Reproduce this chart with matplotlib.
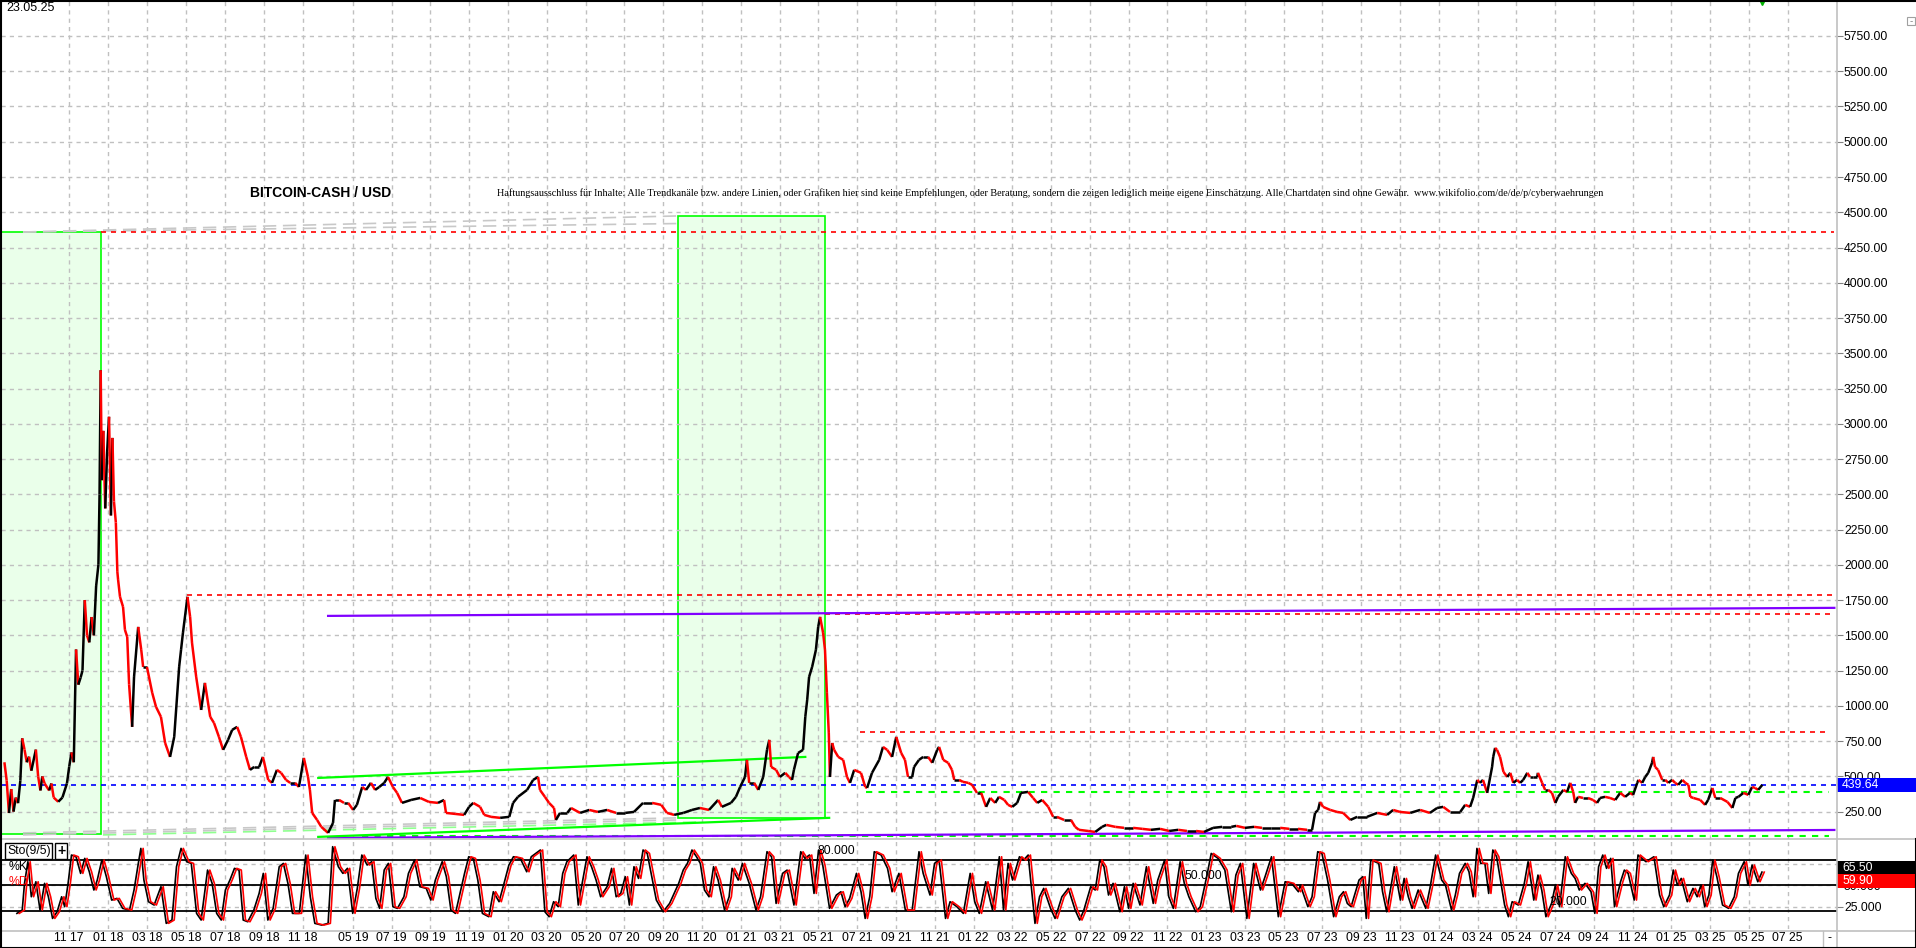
import numpy as np
import matplotlib
matplotlib.use("Agg")
import matplotlib.pyplot as plt
from matplotlib.collections import LineCollection
from matplotlib.patches import Rectangle
from matplotlib.lines import Line2D
from matplotlib.transforms import blended_transform_factory

plt.rcParams['font.family'] = ['Liberation Sans', 'DejaVu Sans']

# time axis is a bar index (the chart has a data gap around 12/18 - 04/19)
tick_labels = ["11 17", "01 18", "03 18", "05 18", "07 18", "09 18", "11 18", "05 19", "07 19",
               "09 19", "11 19", "01 20", "03 20", "05 20", "07 20", "09 20", "11 20", "01 21",
               "03 21", "05 21", "07 21", "09 21", "11 21", "01 22", "03 22", "05 22", "07 22",
               "09 22", "11 22", "01 23", "03 23", "05 23", "07 23", "09 23", "11 23", "01 24",
               "03 24", "05 24", "07 24", "09 24", "11 24", "01 25", "03 25", "05 25", "07 25"]
tick_pos = [0.02, 1.04, 2.07, 3.10, 4.13, 5.16, 6.19, 7.51, 8.53, 9.55, 10.58, 11.60, 12.62,
            13.65, 14.67, 15.69, 16.72, 17.74, 18.76, 19.78, 20.81, 21.83, 22.85, 23.88, 24.90,
            25.92, 26.95, 27.97, 28.99, 30.01, 31.04, 32.06, 33.08, 34.11, 35.13, 36.15, 37.18,
            38.20, 39.22, 40.24, 41.27, 42.29, 43.31, 44.34, 45.36]

# BCH/USD price
price = [
    (-1.69, 600), (-1.63, 470), (-1.57, 240), (-1.51, 410), (-1.45, 250), (-1.39, 350), (-1.33, 310),
    (-1.27, 470), (-1.22, 770), (-1.16, 690), (-1.10, 600), (-1.04, 640), (-0.98, 540), (-0.86, 690),
    (-0.80, 500), (-0.74, 400), (-0.69, 500), (-0.63, 450), (-0.51, 400), (-0.45, 450), (-0.39, 350),
    (-0.27, 320), (-0.16, 350), (-0.04, 450), (0.02, 570), (0.08, 670), (0.14, 600), (0.20, 1400),
    (0.26, 1150), (0.32, 1200), (0.37, 1250), (0.43, 1750), (0.49, 1500), (0.55, 1450), (0.61, 1630),
    (0.67, 1500), (0.73, 1850), (0.79, 2000), (0.82, 2500), (0.85, 3380), (0.88, 2600), (0.92, 2950),
    (0.97, 2400), (1.02, 2800), (1.07, 3050), (1.12, 2350), (1.16, 2900), (1.20, 2450), (1.25, 2300),
    (1.29, 1950), (1.31, 1893), (1.36, 1773), (1.44, 1702), (1.49, 1539), (1.55, 1489), (1.60, 1150),
    (1.68, 851), (1.73, 1205), (1.84, 1560), (1.92, 1397), (1.97, 1276), (2.07, 1276), (2.21, 1092),
    (2.31, 993), (2.44, 922), (2.55, 737), (2.68, 638), (2.79, 780), (2.92, 1276), (2.97, 1397),
    (3.02, 1517), (3.14, 1773), (3.21, 1631), (3.26, 1446), (3.37, 1205), (3.50, 971), (3.60, 1163),
    (3.74, 922), (3.84, 879), (3.97, 780), (4.08, 688), (4.21, 759), (4.32, 830), (4.45, 851),
    (4.55, 780), (4.69, 638), (4.79, 546), (4.90, 567), (5.03, 567), (5.13, 638), (5.27, 475),
    (5.37, 454), (5.50, 546), (5.61, 525), (5.74, 475), (5.85, 454), (5.98, 454), (6.08, 425),
    (6.21, 631), (6.32, 496), (6.37, 404), (6.43, 241), (6.56, 191), (6.67, 142), (6.85, 99),
    (6.98, 170), (7.03, 333), (7.14, 333), (7.27, 312), (7.38, 312), (7.51, 262), (7.61, 298),
    (7.75, 425), (7.85, 404), (7.98, 454), (8.09, 404), (8.20, 425), (8.33, 454), (8.43, 496),
    (8.56, 425), (8.67, 383), (8.80, 312), (9.04, 333), (9.28, 347), (9.51, 319), (9.75, 312),
    (9.91, 333), (9.96, 241), (10.20, 234), (10.44, 227), (10.57, 284), (10.68, 312), (10.86, 284),
    (10.97, 227), (11.15, 213), (11.39, 206), (11.63, 213), (11.73, 312), (11.86, 355), (12.10, 404),
    (12.26, 475), (12.39, 496), (12.44, 404), (12.57, 355), (12.68, 312), (12.81, 276), (12.86, 191),
    (12.97, 241), (13.16, 241), (13.26, 276), (13.50, 241), (13.74, 262), (13.97, 248), (14.21, 262),
    (14.45, 241), (14.69, 241), (14.92, 248), (15.16, 312), (15.40, 312), (15.64, 298), (15.79, 241),
    (15.98, 227), (16.22, 241), (16.45, 262), (16.66, 276), (16.90, 262), (17.14, 333), (17.24, 284),
    (17.48, 312), (17.61, 355), (17.72, 425), (17.85, 496), (17.90, 617), (17.96, 454), (18.09, 454),
    (18.20, 404), (18.33, 496), (18.43, 688), (18.49, 759), (18.54, 567), (18.67, 546), (18.77, 496),
    (18.91, 525), (19.01, 496), (19.09, 475), (19.14, 546), (19.25, 666), (19.38, 688), (19.44, 922),
    (19.49, 1042), (19.54, 1205), (19.62, 1276), (19.72, 1397), (19.78, 1560), (19.83, 1631),
    (19.91, 1517), (19.96, 1397), (20.01, 1092), (20.06, 808), (20.09, 496), (20.15, 737), (20.20, 688),
    (20.31, 638), (20.44, 617), (20.54, 496), (20.62, 454), (20.73, 546), (20.91, 525), (21.02, 425),
    (21.07, 418), (21.20, 525), (21.39, 617), (21.49, 709), (21.60, 688), (21.73, 638), (21.84, 780),
    (21.97, 666), (22.07, 617), (22.15, 496), (22.26, 496), (22.31, 567), (22.44, 617), (22.55, 638),
    (22.68, 638), (22.79, 596), (22.92, 688), (22.97, 709), (23.08, 617), (23.21, 596), (23.31, 546),
    (23.37, 475), (23.50, 475), (23.60, 461), (23.74, 454), (23.84, 440), (23.97, 383), (24.08, 383),
    (24.21, 284), (24.32, 347), (24.45, 312), (24.55, 355), (24.69, 333), (24.79, 298), (24.90, 284),
    (25.03, 312), (25.13, 383), (25.32, 390), (25.45, 347), (25.56, 312), (25.69, 333), (25.85, 284),
    (25.98, 213), (26.08, 213), (26.27, 191), (26.45, 191), (26.56, 142), (26.66, 121), (26.90, 113),
    (27.09, 106), (27.27, 142), (27.38, 156), (27.62, 142), (27.85, 135), (28.09, 135), (28.33, 128),
    (28.56, 121), (28.80, 128), (29.04, 113), (29.28, 121), (29.51, 113), (29.75, 113), (29.96, 106),
    (30.20, 135), (30.44, 142), (30.68, 142), (30.81, 149), (31.04, 135), (31.28, 142), (31.49, 135),
    (31.73, 135), (31.97, 135), (32.21, 128), (32.44, 128), (32.68, 121), (32.81, 121), (32.89, 241),
    (32.97, 262), (33.02, 319), (33.10, 284), (33.29, 262), (33.47, 248), (33.63, 241), (33.82, 191),
    (34.00, 213), (34.26, 213), (34.53, 241), (34.79, 227), (34.95, 262), (35.13, 248), (35.40, 241),
    (35.66, 262), (35.92, 241), (36.11, 276), (36.27, 284), (36.45, 248), (36.72, 248), (36.85, 298),
    (36.98, 284), (37.06, 347), (37.17, 475), (37.24, 454), (37.32, 475), (37.43, 383), (37.51, 496),
    (37.56, 567), (37.59, 638), (37.64, 702), (37.69, 688), (37.77, 638), (37.83, 567), (37.86, 532),
    (37.96, 496), (38.04, 525), (38.12, 454), (38.22, 475), (38.30, 454), (38.38, 475), (38.49, 525),
    (38.56, 496), (38.64, 496), (38.75, 496), (38.77, 525), (38.88, 454), (38.96, 404), (39.04, 404),
    (39.14, 383), (39.23, 312), (39.30, 355), (39.44, 404), (39.54, 390), (39.62, 454), (39.70, 390),
    (39.75, 312), (39.83, 355), (39.96, 347), (40.09, 347), (40.22, 333), (40.33, 312), (40.41, 347),
    (40.54, 355), (40.67, 347), (40.81, 333), (40.94, 383), (41.07, 355), (41.20, 383), (41.28, 369),
    (41.39, 454), (41.42, 475), (41.52, 454), (41.60, 496), (41.68, 525), (41.78, 596), (41.81, 638),
    (41.86, 567), (41.94, 546), (42.05, 475), (42.13, 475), (42.21, 454), (42.31, 475), (42.39, 454),
    (42.47, 440), (42.58, 475), (42.66, 454), (42.74, 440), (42.79, 355), (42.87, 347), (43.05, 333),
    (43.18, 298), (43.26, 333), (43.37, 418), (43.45, 347), (43.58, 347), (43.77, 319), (43.90, 276),
    (43.98, 347), (44.06, 355), (44.19, 383), (44.32, 369), (44.42, 425), (44.50, 418), (44.58, 404),
    (44.69, 440),
]
price_t = [p[0] for p in price]
price_v = [p[1] for p in price]
last_price = 439.64

# Stochastic %K (9/5), turning points
sto_k = [
    (-1.36, 17.1), (-1.22, 21.0), (-1.16, 52.3), (-1.07, 77.7), (-0.98, 36.6), (-0.86, 54.2), (-0.75, 21.0),
    (-0.63, 52.3), (-0.53, 36.6), (-0.42, 11.2), (-0.30, 19.0), (-0.18, 36.6), (-0.10, 24.9), (-0.01, 52.3),
    (0.08, 85.5), (0.20, 83.5), (0.32, 64.0), (0.43, 81.6), (0.55, 65.9), (0.67, 44.5), (0.76, 56.2),
    (0.88, 79.6), (1.00, 60.1), (1.14, 32.7), (1.28, 34.7), (1.43, 23.0), (1.61, 21.0), (1.73, 44.5),
    (1.85, 77.7), (1.91, 93.3), (1.99, 56.2), (2.11, 30.8), (2.26, 26.9), (2.44, 48.4), (2.58, 5.4),
    (2.73, 9.3), (2.85, 71.8), (2.97, 93.3), (3.12, 77.7), (3.24, 75.7), (3.38, 17.1), (3.50, 9.3),
    (3.67, 67.9), (3.79, 52.3), (3.91, 17.1), (4.03, 9.3), (4.14, 44.5), (4.26, 56.2), (4.38, 69.9),
    (4.50, 67.9), (4.61, 9.3), (4.73, 7.3), (4.89, 21.0), (5.03, 40.5), (5.14, 64.0), (5.26, 9.3),
    (5.40, 23.0), (5.56, 71.8), (5.67, 75.7), (5.79, 52.3), (5.91, 17.1), (6.09, 17.1), (6.26, 85.5),
    (6.38, 36.6), (6.50, 5.4), (6.68, 3.4), (6.85, 5.4), (6.97, 95.3), (7.12, 71.8), (7.24, 64.0),
    (7.36, 69.9), (7.50, 17.1), (7.62, 46.4), (7.74, 85.5), (7.88, 73.8), (8.00, 77.7), (8.11, 34.7),
    (8.21, 23.0), (8.33, 67.9), (8.44, 75.7), (8.56, 24.9), (8.68, 23.0), (8.85, 36.6), (8.97, 64.0),
    (9.13, 79.6), (9.27, 48.4), (9.44, 46.4), (9.56, 32.7), (9.68, 56.2), (9.86, 77.7), (9.97, 60.1),
    (10.09, 21.0), (10.21, 17.1), (10.33, 40.5), (10.45, 64.0), (10.56, 83.5), (10.68, 81.6),
    (10.80, 56.2), (10.92, 17.1), (11.09, 13.2), (11.21, 42.5), (11.36, 30.8), (11.48, 50.3),
    (11.62, 73.8), (11.74, 83.5), (11.92, 81.6), (12.09, 65.9), (12.21, 83.5), (12.33, 87.4),
    (12.45, 91.4), (12.57, 19.0), (12.68, 13.2), (12.80, 30.8), (12.92, 24.9), (13.04, 64.0),
    (13.15, 77.7), (13.33, 85.5), (13.45, 26.9), (13.57, 56.2), (13.68, 83.5), (13.80, 71.8),
    (13.92, 56.2), (14.04, 36.6), (14.21, 48.4), (14.33, 69.9), (14.45, 36.6), (14.57, 40.5),
    (14.69, 60.1), (14.80, 26.9), (14.92, 71.8), (15.04, 58.1), (15.16, 91.4), (15.27, 87.4),
    (15.39, 60.1), (15.51, 32.7), (15.69, 19.0), (15.86, 28.8), (15.98, 40.5), (16.10, 52.3),
    (16.22, 67.9), (16.33, 75.7), (16.45, 91.4), (16.57, 83.5), (16.67, 75.7), (16.78, 44.5),
    (16.90, 36.6), (17.02, 71.8), (17.14, 56.2), (17.31, 21.0), (17.43, 36.6), (17.51, 69.9),
    (17.67, 56.2), (17.78, 75.7), (17.96, 52.3), (18.14, 21.0), (18.26, 36.6), (18.43, 89.4),
    (18.55, 83.5), (18.67, 28.8), (18.84, 64.0), (18.96, 67.9), (19.14, 26.9), (19.32, 89.4),
    (19.43, 81.6), (19.55, 85.5), (19.67, 40.5), (19.79, 91.4), (19.90, 73.8), (20.08, 23.0),
    (20.26, 38.6), (20.38, 42.5), (20.49, 24.9), (20.61, 34.7), (20.79, 64.0), (20.91, 42.5),
    (21.02, 11.2), (21.14, 36.6), (21.26, 89.4), (21.44, 85.5), (21.61, 69.9), (21.73, 42.5),
    (21.91, 64.0), (22.08, 21.0), (22.26, 21.0), (22.44, 89.4), (22.55, 64.0), (22.73, 38.6),
    (22.85, 75.7), (22.97, 79.6), (23.14, 11.2), (23.26, 30.8), (23.44, 24.9), (23.61, 17.1),
    (23.79, 64.0), (23.91, 30.8), (24.03, 17.1), (24.20, 54.2), (24.38, 21.0), (24.56, 83.5),
    (24.67, 21.0), (24.79, 75.7), (24.91, 56.2), (25.09, 83.5), (25.20, 79.6), (25.32, 85.5),
    (25.50, 5.4), (25.62, 36.6), (25.73, 46.4), (25.91, 23.0), (26.03, 11.2), (26.21, 36.6),
    (26.38, 46.4), (26.56, 21.0), (26.68, 9.3), (26.79, 21.0), (26.97, 48.4), (27.09, 44.5),
    (27.21, 79.6), (27.32, 71.8), (27.44, 38.6), (27.56, 52.3), (27.74, 19.0), (27.86, 48.4),
    (27.97, 23.0), (28.09, 52.3), (28.27, 26.9), (28.44, 71.8), (28.62, 28.8), (28.74, 56.2),
    (28.92, 79.6), (29.03, 36.6), (29.15, 23.0), (29.33, 77.7), (29.44, 52.3), (29.56, 36.6),
    (29.74, 19.0), (29.86, 24.9), (30.03, 60.1), (30.15, 87.4), (30.33, 81.6), (30.51, 67.9),
    (30.68, 19.0), (30.80, 62.0), (30.92, 75.7), (31.09, 11.2), (31.27, 75.7), (31.45, 44.5),
    (31.57, 60.1), (31.74, 83.5), (31.92, 13.2), (32.10, 54.2), (32.27, 52.3), (32.45, 42.5),
    (32.50, 50.3), (32.70, 24.9), (32.81, 36.6), (32.96, 89.4), (33.07, 87.4), (33.22, 56.2),
    (33.38, 13.2), (33.53, 36.6), (33.64, 42.5), (33.74, 28.8), (33.84, 24.9), (34.05, 56.2),
    (34.15, 60.1), (34.24, 11.2), (34.36, 79.6), (34.47, 77.7), (34.57, 75.7), (34.67, 42.5),
    (34.78, 19.0), (34.98, 71.8), (35.14, 32.7), (35.24, 58.1), (35.35, 36.6), (35.45, 23.0),
    (35.61, 44.5), (35.81, 23.0), (35.92, 46.4), (36.07, 85.5), (36.23, 56.2), (36.33, 50.3),
    (36.49, 21.0), (36.59, 38.6), (36.70, 64.0), (36.85, 75.7), (36.95, 65.9), (37.06, 36.6),
    (37.16, 93.3), (37.26, 75.7), (37.37, 75.7), (37.47, 40.5), (37.58, 91.4), (37.68, 83.5),
    (37.78, 56.2), (37.89, 26.9), (37.99, 13.2), (38.09, 30.8), (38.25, 26.9), (38.41, 52.3),
    (38.51, 77.7), (38.66, 32.7), (38.77, 62.0), (38.87, 44.5), (38.98, 13.2), (39.13, 28.8),
    (39.23, 50.3), (39.34, 24.9), (39.49, 83.5), (39.65, 64.0), (39.75, 58.1), (39.86, 44.5),
    (40.01, 52.3), (40.17, 42.5), (40.27, 17.1), (40.37, 71.8), (40.48, 85.5), (40.58, 69.9),
    (40.69, 81.6), (40.79, 24.9), (40.95, 54.2), (41.05, 67.9), (41.15, 64.0), (41.31, 32.7),
    (41.41, 85.5), (41.62, 77.7), (41.83, 83.5), (41.98, 38.6), (42.09, 24.9), (42.24, 38.6),
    (42.34, 67.9), (42.45, 50.3), (42.55, 58.1), (42.71, 30.8), (42.86, 46.4), (42.97, 36.6),
    (43.07, 50.3), (43.17, 24.9), (43.28, 38.6), (43.38, 79.6), (43.49, 60.1), (43.64, 26.9),
    (43.80, 23.0), (43.95, 36.6), (44.06, 64.0), (44.21, 77.7), (44.31, 50.3), (44.42, 73.8),
    (44.57, 54.2), (44.68, 65.5),
]
k_t = [p[0] for p in sto_k]
k_v = [p[1] for p in sto_k]
last_k, last_d = 65.50, 59.90
sto_levels = [80, 50, 20]

# drawn objects (trend lines, levels, boxes)
red_levels = [4360, 1785, 1652, 815]
red_from = [0.87, 3.13, 19.96, 20.89]
red_to = [46.59, 46.59, 46.59, 46.45]
green_levels = [390, 78]
green_from = [21.05, 7.75]
green_to = [46.45, 46.45]
purple_t = [6.85, 46.59]
purple_upper = [1638, 1695]
purple_lower = [64, 120]
chan_up_t, chan_up_v = [6.59, 19.44], [489, 638]
chan_lo_t, chan_lo_v = [6.59, 20.07], [71, 206]
box_t = [(-1.78, 0.87), (16.08, 19.96)]
box_v = [(92, 4360), (206, 4470)]
fan_t = [-1.20, 16.08]
fan_top = [(4360, 4474), (4360, 4420)]
fan_bottom = [(99, 206), (85, 191)]
lgreen_t, lgreen_v = [0.91, 16.66], [85, 177]

W, H = 1916, 948
GRID = '#c0c0c0'
fig = plt.figure(figsize=(W / 100, H / 100), dpi=100)
ax = fig.add_axes([1 / W, 1 - 839 / H, 1836 / W, 838 / H])
axs = fig.add_axes([1 / W, 1 - 929 / H, 1836 / W, 90 / H])

for a in (ax, axs):
    a.set_xlim(-1.78, 46.66)
    a.set_xticks(tick_pos)
    for s in a.spines.values():
        s.set_visible(False)
    a.grid(True, color=GRID, linestyle=(0, (3, 3)), linewidth=1)
    a.yaxis.tick_right()
    a.tick_params(axis='y', length=4, color='#808080', pad=1, labelsize=8.8)

# ---- price panel
ax.set_ylim(56, 5998)
ax.set_yticks(np.arange(250, 5751, 250))
ax.set_yticklabels([f"{v:.2f}" for v in np.arange(250, 5751, 250)])
ax.tick_params(axis='x', length=0, labelbottom=False)

for (t0, t1), (v0, v1) in zip(box_t, box_v):
    ax.add_patch(Rectangle((t0, v0), t1 - t0, v1 - v0, fc='#eaffea', ec='#00ff00', lw=1.2, zorder=1))
for v0, v1 in fan_top + fan_bottom:
    ax.plot(fan_t, [v0, v1], color='#c8c8c8', lw=1.2, ls=(0, (8, 4)), zorder=2)
ax.plot(lgreen_t, lgreen_v, color='#90ff90', lw=1.2, ls=(0, (8, 4)), zorder=2)

for v, a0, a1 in zip(red_levels, red_from, red_to):
    ax.plot([a0, a1], [v, v], color='#ff0000', lw=1.2, ls=(0, (3, 3)), zorder=3)
for v, a0, a1 in zip(green_levels, green_from, green_to):
    ax.plot([a0, a1], [v, v], color='#00ff00', lw=1.5, ls=(0, (3, 3)), zorder=3)
ax.axhline(last_price, color='#0000ff', lw=1.2, ls=(0, (3, 3)), zorder=3)
ax.plot(purple_t, purple_upper, color='#8000ff', lw=1.6, zorder=3)
ax.plot(purple_t, purple_lower, color='#8000ff', lw=1.6, zorder=3)
ax.plot(chan_up_t, chan_up_v, color='#00ff00', lw=1.6, zorder=3)
ax.plot(chan_lo_t, chan_lo_v, color='#00ff00', lw=1.6, zorder=3)

pts = np.column_stack([price_t, price_v])
segs = np.stack([pts[:-1], pts[1:]], axis=1)
cols = np.where(np.diff(price_v) < 0, '#ff0000', '#000000')
ax.add_collection(LineCollection(segs, colors=cols, linewidths=1.8, zorder=4))
ax.plot([price_t[-1]], [5998], marker='v', color='#00b000', ms=6, clip_on=False, zorder=6)

# ---- stochastic panel
axs.set_ylim(-1.2, 104.3)
axs.set_yticks([25, 50, 75])
axs.set_yticklabels(["25.000", "50.000", ""])
axs.set_xticklabels(tick_labels)
axs.tick_params(axis='x', length=0, pad=2, labelsize=8.8)
for lv in sto_levels:
    axs.axhline(lv, color='black', lw=1.3, zorder=2)
axs.plot(k_t, k_v, color='black', lw=1.2, zorder=3)
axs.plot(np.array(k_t) + 0.06, k_v, color='#ff0000', lw=1.2, zorder=4)
for lv, tx in zip(sto_levels, [19.76, 29.44, 39.08]):
    axs.annotate(f"{lv:.3f}", (tx, lv), xytext=(0, 3), textcoords='offset pixels',
                 fontsize=8.8, va='bottom', ha='left', zorder=5)


def value_tag(axis, value, text, fc, dy_px=0):
    h_px = axis.get_position().height * H
    y0, y1 = axis.get_ylim()
    u = (y1 - y0) / h_px
    yc = value + dy_px * u
    tr = blended_transform_factory(axis.transAxes, axis.transData)
    axis.add_patch(Rectangle((1.0, yc - 7 * u), 79 / 1836, 14 * u, transform=tr, fc=fc,
                             ec='none', clip_on=False, zorder=7))
    axis.text(1.0 + 5 / 1836, yc, text, transform=tr, color='white', fontsize=8.8,
              va='center', ha='left', clip_on=False, zorder=8)


value_tag(ax, last_price, f"{last_price:.2f}", '#0000ff')
value_tag(axs, last_k, f"{last_k:.2f}", '#000000', dy_px=4)
value_tag(axs, last_d, f"{last_d:.2f}", '#ff0000', dy_px=-4)

# ---- frame, separators and texts
fig.add_artist(Line2D([1837 / W] * 2, [0, 1], color=GRID, lw=1.2))
fig.add_artist(Line2D([0, 1], [1 - 839 / H] * 2, color=GRID, lw=1.2))
fig.add_artist(Line2D([0, 1], [1 - 931 / H] * 2, color=GRID, lw=1.2))
fig.add_artist(Line2D([1823 / W] * 2, [0, 1 - 931 / H], color=GRID, lw=1))
fig.add_artist(Line2D([0.5 / W] * 2, [0, 1], color='black', lw=1.5))
fig.add_artist(Line2D([0, 1], [1 - 0.5 / H] * 2, color='black', lw=1.5))
fig.add_artist(Line2D([0, 1], [0.5 / H] * 2, color='black', lw=1.5))
fig.add_artist(Line2D([1 - 0.5 / W] * 2, [0, 1 - 839 / H], color='black', lw=1.5))
fig.add_artist(Rectangle((1907 / W, 1 - 25 / H), 8 / W, 8 / H, fc='white', ec='#a0a0a0', lw=0.8))
fig.text(1911 / W, 1 - 21 / H, "-", fontsize=7, color='#808080', ha='center', va='center')
fig.text(1829 / W, 1 - 938 / H, "-", fontsize=8.8, ha='center', va='center')

fig.text(6 / W, 1 - 8 / H, "23.05.25", fontsize=9, va='center', ha='left')
fig.text(250 / W, 1 - 193 / H, "BITCOIN-CASH / USD", fontsize=10, fontweight='bold',
         va='center', ha='left')
disc = fig.text(497 / W, 1 - 193 / H,
                "Haftungsausschluss für Inhalte: Alle Trendkanäle bzw. andere Linien, oder Grafiken hier "
                "sind keine Empfehlungen, oder Beratung, sondern die zeigen lediglich meine eigene "
                "Einschätzung. Alle Chartdaten sind ohne Gewähr.  www.wikifolio.com/de/de/p/cyberwaehrungen",
                fontsize=8, va='center', ha='left',
                family=['Liberation Sans Narrow', 'Liberation Serif', 'DejaVu Sans'])
fig.canvas.draw()
wpx = disc.get_window_extent().width
disc.set_fontsize(8 * 1105 / wpx)

fig.text(7 / W, 1 - 851 / H, "Sto(9/5)", fontsize=8.8, va='center', ha='left',
         bbox=dict(boxstyle='square,pad=0.15', fc='white', ec='black', lw=1))
fig.text(61 / W, 1 - 851 / H, "+", fontsize=10, fontweight='bold', va='center', ha='center',
         bbox=dict(boxstyle='square,pad=0.1', fc='white', ec='black', lw=1))
fig.text(9 / W, 1 - 867 / H, "%K", fontsize=8.8, va='center', ha='left')
fig.text(9 / W, 1 - 882 / H, "%D", fontsize=8.8, va='center', ha='left', color='#ff0000')

fig.savefig("out.png", dpi=100, facecolor='white')
